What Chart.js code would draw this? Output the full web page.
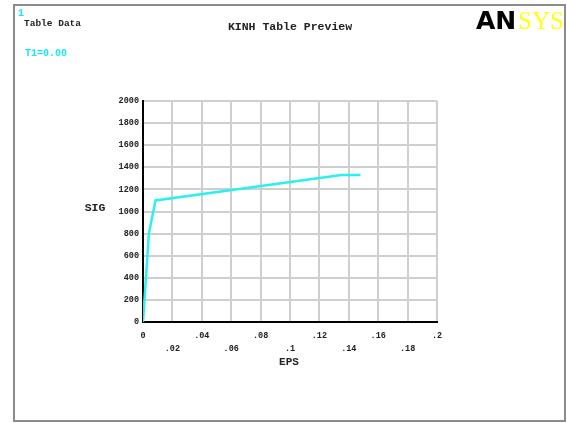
<!DOCTYPE html>
<html>
<head>
  <meta charset="UTF-8">
  <title>KINH Table Preview</title>
  <script src="https://cdn.jsdelivr.net/npm/chart.js@4.4.0/dist/chart.umd.min.js"></script>
  <style>
    html, body { margin: 0; padding: 0; background: #fff; }
    #grafica { display: block; }
  </style>
</head>
<body>
  <canvas id="grafica" width="567" height="423"></canvas>
  <script>
    // curva KINH: deformacion (EPS) contra esfuerzo (SIG)
    var eps = [0, 0.001, 0.004, 0.0085, 0.135, 0.148];
    var sig = [0, 200, 800, 1100, 1330, 1330];

    var ejeX = { min: 0, max: 0.2, paso: 0.02 };
    var ejeY = { min: 0, max: 2000, paso: 200 };

    var mono = '"Liberation Mono", "DejaVu Sans Mono", monospace';

    var puntos = [];
    for (var i = 0; i < eps.length; i++) {
      puntos.push({ x: eps[i], y: sig[i] });
    }

    // etiqueta tipo ".04" sin cero inicial
    function etiquetaX(v) {
      var s = String(Math.round(v * 100) / 100);
      if (s.indexOf('0.') === 0) s = s.substring(1);
      return s;
    }

    // marco, logo y textos sueltos
    var decoracion = {
      id: 'decoracion',
      beforeDraw: function (chart) {
        var c = chart.ctx;
        c.save();
        c.fillStyle = '#fff';
        c.fillRect(0, 0, chart.width, chart.height);
        c.strokeStyle = '#8c8c8c';
        c.lineWidth = 2;
        c.strokeRect(14, 5, 551, 416);
        c.restore();
      },
      afterDraw: function (chart) {
        var c = chart.ctx;
        c.save();
        c.textBaseline = 'middle';

        c.fillStyle = '#1ee6f0';
        c.font = 'bold 10px ' + mono;
        c.textAlign = 'left';
        c.fillText('1', 18, 13);
        c.fillText('T1=0.00', 25, 53);

        c.fillStyle = '#222';
        c.font = 'bold 9.5px ' + mono;
        c.fillText('Table Data', 24, 24);

        c.font = 'bold 11.5px ' + mono;
        c.textAlign = 'center';
        c.fillText('KINH Table Preview', 290, 27);
        c.fillText('SIG', 95, 208);
        c.font = 'bold 11px ' + mono;
        c.fillText('EPS', 289, 362);

        // logo
        c.textAlign = 'left';
        c.textBaseline = 'alphabetic';
        c.fillStyle = '#000';
        c.font = 'bold 25px "DejaVu Sans", sans-serif';
        c.fillText('AN', 476, 29);
        c.fillStyle = '#ffff1a';
        c.font = '25px "Liberation Serif", serif';
        c.fillText('SYS', 518, 29);
        c.restore();
      }
    };

    var ctx = document.getElementById('grafica').getContext('2d');
    var chart = new Chart(ctx, {
      type: 'scatter',
      data: {
        datasets: [{
          label: 'SIG',
          data: puntos,
          showLine: true,
          borderColor: '#2cf0f0',
          backgroundColor: '#2cf0f0',
          borderWidth: 2.5,
          pointRadius: 0,
          tension: 0
        }]
      },
      options: {
        responsive: false,
        animation: false,
        layout: { padding: { left: 112, right: 130, top: 101, bottom: 40 } },
        plugins: {
          legend: { display: false },
          tooltip: { enabled: false }
        },
        scales: {
          x: {
            type: 'linear',
            min: ejeX.min,
            max: ejeX.max,
            afterFit: function (s) { s.height = 61; },
            grid: { color: '#cfcfcf', lineWidth: 2, drawTicks: false },
            border: { color: '#000', width: 2 },
            ticks: {
              stepSize: ejeX.paso,
              padding: 7,
              autoSkip: false,
              maxRotation: 0,
              color: '#222',
              font: { family: mono, size: 8.5, weight: 'bold', lineHeight: 1.55 },
              callback: function (v, idx) {
                var t = etiquetaX(v);
                return idx % 2 === 0 ? [t, ''] : ['', t];
              }
            }
          },
          y: {
            type: 'linear',
            min: ejeY.min,
            max: ejeY.max,
            afterFit: function (s) { s.width = 31; },
            grid: { color: '#cfcfcf', lineWidth: 2, drawTicks: false },
            border: { color: '#000', width: 2 },
            ticks: {
              stepSize: ejeY.paso,
              padding: 4,
              color: '#222',
              font: { family: mono, size: 8.5, weight: 'bold' },
              callback: function (v) { return String(v); }
            }
          }
        }
      },
      plugins: [decoracion]
    });
  </script>
</body>
</html>
